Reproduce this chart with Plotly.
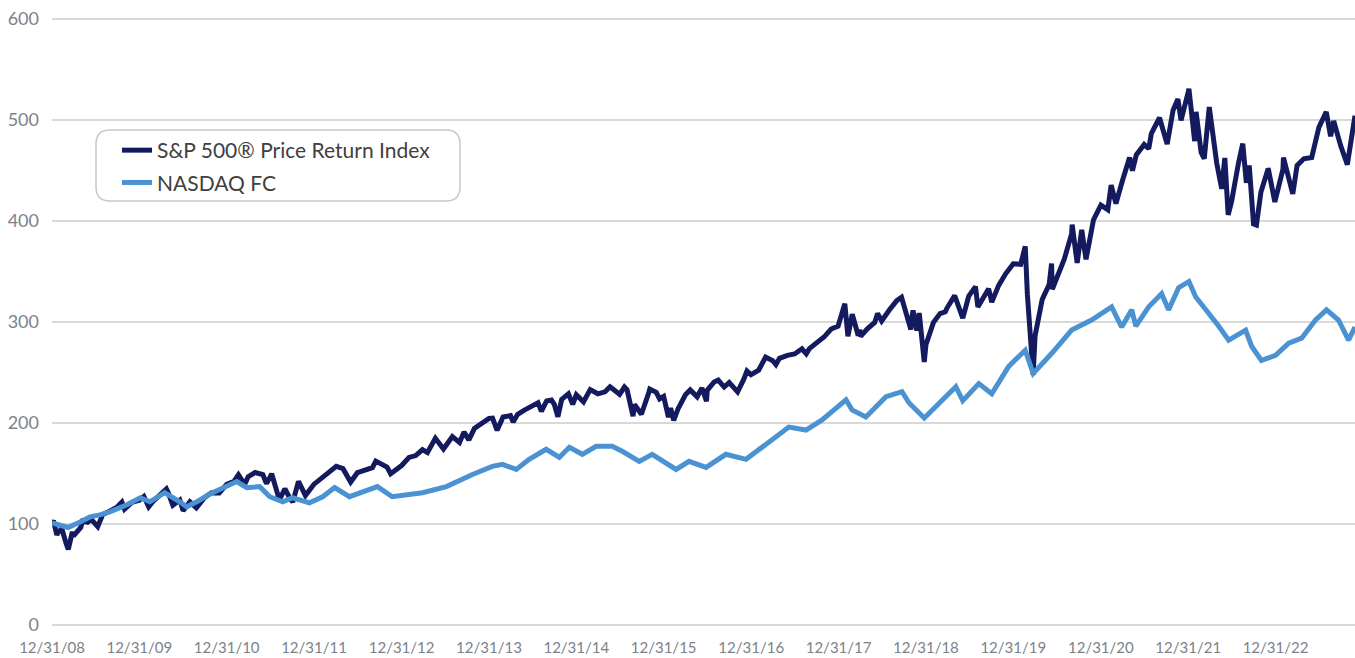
import plotly.graph_objects as go

# ---------------- data ----------------
sp_dates = [
    "2008-12-31", "2009-01-06", "2009-01-20", "2009-01-28", "2009-01-30", "2009-02-09", "2009-02-27",
    "2009-03-09", "2009-03-26", "2009-03-31", "2009-04-30", "2009-05-08", "2009-05-29", "2009-06-12",
    "2009-07-10", "2009-07-31", "2009-08-31", "2009-09-30", "2009-10-19", "2009-10-30", "2009-11-30",
    "2009-12-31", "2010-01-19", "2010-02-08", "2010-02-26", "2010-03-31", "2010-04-23", "2010-04-30",
    "2010-05-20", "2010-05-31", "2010-06-18", "2010-07-02", "2010-07-30", "2010-08-26", "2010-09-30",
    "2010-10-29", "2010-11-30", "2010-12-31", "2011-01-31", "2011-02-18", "2011-03-16", "2011-03-31",
    "2011-04-29", "2011-05-31", "2011-06-15", "2011-06-30", "2011-07-07", "2011-08-08", "2011-08-31",
    "2011-09-22", "2011-10-03", "2011-10-27", "2011-11-25", "2011-12-30", "2012-01-31", "2012-02-29",
    "2012-04-02", "2012-04-30", "2012-06-01", "2012-06-29", "2012-07-31", "2012-08-31", "2012-09-14",
    "2012-10-31", "2012-11-15", "2012-12-31", "2013-01-31", "2013-02-28", "2013-03-28", "2013-04-18",
    "2013-05-21", "2013-06-24", "2013-07-31", "2013-08-30", "2013-09-18", "2013-10-08", "2013-10-31",
    "2013-11-29", "2013-12-31", "2014-01-15", "2014-02-03", "2014-02-28", "2014-03-31", "2014-04-11",
    "2014-04-30", "2014-05-30", "2014-06-30", "2014-07-24", "2014-08-07", "2014-08-29", "2014-09-18",
    "2014-09-30", "2014-10-15", "2014-10-31", "2014-11-28", "2014-12-16", "2014-12-31", "2015-01-30",
    "2015-02-27", "2015-03-31", "2015-04-30", "2015-05-21", "2015-06-30", "2015-07-20", "2015-07-31",
    "2015-08-25", "2015-08-31", "2015-09-29", "2015-10-30", "2015-11-03", "2015-11-30", "2015-12-14",
    "2015-12-31", "2016-01-20", "2016-01-29", "2016-02-11", "2016-02-29", "2016-03-31", "2016-04-20",
    "2016-05-19", "2016-06-08", "2016-06-27", "2016-06-30", "2016-07-29", "2016-08-15", "2016-09-09",
    "2016-09-30", "2016-11-04", "2016-11-30", "2016-12-13", "2016-12-30", "2017-01-31", "2017-03-01",
    "2017-03-31", "2017-04-13", "2017-04-28", "2017-05-31", "2017-06-30", "2017-07-31", "2017-08-18",
    "2017-08-31", "2017-09-29", "2017-10-31", "2017-11-30", "2017-12-29", "2018-01-26", "2018-02-08",
    "2018-02-26", "2018-03-23", "2018-03-29", "2018-04-02", "2018-04-30", "2018-05-31", "2018-06-12",
    "2018-06-29", "2018-07-31", "2018-08-31", "2018-09-20", "2018-10-29", "2018-10-31", "2018-11-07",
    "2018-11-23", "2018-12-03", "2018-12-24", "2018-12-31", "2019-01-31", "2019-02-28", "2019-03-22",
    "2019-03-29", "2019-04-30", "2019-05-31", "2019-06-03", "2019-06-28", "2019-07-26", "2019-08-05",
    "2019-08-30", "2019-09-19", "2019-10-02", "2019-10-31", "2019-11-29", "2019-12-31", "2020-01-31",
    "2020-02-19", "2020-02-28", "2020-03-23", "2020-03-31", "2020-04-30", "2020-05-29", "2020-06-08",
    "2020-06-11", "2020-06-30", "2020-07-31", "2020-08-31", "2020-09-02", "2020-09-23", "2020-10-12",
    "2020-10-30", "2020-11-30", "2020-12-31", "2021-01-29", "2021-02-12", "2021-03-04", "2021-03-31",
    "2021-04-30", "2021-05-12", "2021-05-28", "2021-06-30", "2021-07-19", "2021-07-30", "2021-08-31",
    "2021-09-02", "2021-10-04", "2021-10-29", "2021-11-18", "2021-12-01", "2021-12-31", "2022-01-03",
    "2022-01-27", "2022-02-02", "2022-02-23", "2022-03-08", "2022-03-29", "2022-04-29", "2022-05-20",
    "2022-06-02", "2022-06-16", "2022-06-30", "2022-07-29", "2022-08-16", "2022-08-31", "2022-09-12",
    "2022-09-30", "2022-10-12", "2022-10-31", "2022-11-30", "2022-12-01", "2022-12-28", "2023-01-31",
    "2023-02-02", "2023-02-28", "2023-03-13", "2023-03-31", "2023-04-28", "2023-05-31", "2023-06-30",
    "2023-07-31", "2023-08-18", "2023-08-31", "2023-09-29", "2023-10-27", "2023-11-28",
]
sp_values = [
    100.0, 103.5, 89.1, 93.6, 91.4, 96.3, 81.4,
    74.9, 92.2, 88.3, 96.6, 102.9, 101.8, 104.8,
    97.3, 109.3, 113.0, 117.0, 121.6, 114.7, 121.3,
    123.5, 127.3, 117.0, 122.3, 129.5, 134.8, 131.4,
    118.6, 120.6, 123.7, 113.2, 122.0, 115.9, 126.3,
    131.0, 130.7, 139.2, 142.4, 148.7, 139.2, 146.8,
    151.0, 148.9, 140.1, 146.2, 149.8, 123.9, 134.9,
    125.1, 121.7, 142.2, 128.3, 139.2, 145.3, 151.2,
    157.1, 154.8, 141.5, 150.8, 152.7, 155.7, 162.3,
    156.3, 149.8, 157.9, 165.9, 167.7, 173.7, 170.7,
    184.8, 174.2, 186.6, 180.8, 191.0, 183.3, 194.5,
    199.9, 204.6, 204.8, 192.8, 205.9, 207.3, 201.0,
    208.6, 213.0, 217.0, 220.1, 211.4, 221.8, 222.7,
    218.4, 206.2, 223.4, 228.9, 218.4, 227.9, 220.9,
    233.0, 228.9, 230.9, 235.9, 228.4, 235.6, 232.9,
    206.8, 218.3, 208.6, 230.2, 233.6, 230.3, 223.8,
    226.3, 205.8, 214.8, 202.5, 213.9, 228.0, 232.8,
    225.9, 234.6, 221.5, 232.4, 240.6, 242.5, 235.6,
    240.1, 230.8, 243.4, 251.5, 247.9, 252.3, 265.3,
    261.6, 257.8, 264.0, 267.0, 268.3, 273.5, 268.5,
    273.6, 278.9, 285.1, 293.1, 296.0, 318.1, 285.8,
    307.7, 286.6, 292.4, 285.8, 293.2, 299.5, 308.5,
    301.0, 311.8, 321.2, 324.5, 292.4, 300.2, 311.5,
    291.5, 308.9, 260.3, 277.5, 299.4, 308.3, 310.1,
    313.8, 326.1, 304.7, 303.8, 325.7, 335.0, 314.9,
    324.0, 332.9, 319.7, 336.3, 347.7, 357.7, 357.1,
    374.9, 327.1, 247.7, 286.1, 322.4, 337.0, 357.8,
    332.4, 343.2, 362.1, 387.5, 396.4, 358.4, 391.3,
    362.0, 401.0, 415.8, 411.2, 435.6, 417.2, 439.8,
    462.9, 449.8, 465.4, 475.8, 471.5, 486.6, 500.7,
    502.3, 476.1, 509.9, 520.8, 499.6, 527.7, 531.0,
    479.0, 508.0, 467.8, 461.7, 512.8, 457.5, 431.9,
    462.4, 406.0, 419.1, 457.3, 476.6, 437.9, 455.1,
    397.0, 396.0, 428.7, 451.7, 451.3, 418.8, 451.3,
    462.7, 439.5, 426.9, 455.0, 461.6, 462.8, 492.7,
    508.0, 483.8, 499.0, 474.7, 455.8, 504.3,
]

fc_dates = [
    "2008-12-31", "2009-02-03", "2009-03-08", "2009-04-27", "2009-06-08", "2009-07-19", "2009-08-30",
    "2009-11-09", "2010-01-04", "2010-02-13", "2010-04-16", "2010-06-18", "2010-07-17", "2010-08-28",
    "2010-11-02", "2011-02-11", "2011-03-25", "2011-05-18", "2011-06-29", "2011-08-22", "2011-10-02",
    "2011-12-12", "2012-02-05", "2012-03-26", "2012-05-27", "2012-09-21", "2012-11-22", "2013-03-28",
    "2013-07-06", "2013-10-23", "2014-01-14", "2014-02-25", "2014-04-24", "2014-06-17", "2014-08-27",
    "2014-10-21", "2014-12-02", "2015-01-25", "2015-03-24", "2015-05-30", "2015-07-11", "2015-09-20",
    "2015-11-13", "2016-02-21", "2016-04-15", "2016-06-25", "2016-09-16", "2016-12-09", "2017-02-02",
    "2017-03-28", "2017-06-06", "2017-08-17", "2017-10-23", "2018-01-31", "2018-02-25", "2018-04-24",
    "2018-07-17", "2018-09-22", "2018-10-21", "2018-12-24", "2019-05-05", "2019-06-03", "2019-08-09",
    "2019-10-02", "2019-12-12", "2020-02-19", "2020-03-23", "2020-06-09", "2020-08-31", "2020-11-22",
    "2021-02-14", "2021-03-28", "2021-05-09", "2021-05-26", "2021-07-19", "2021-09-11", "2021-10-10",
    "2021-11-21", "2022-01-03", "2022-01-31", "2022-03-26", "2022-05-07", "2022-06-18", "2022-08-28",
    "2022-09-22", "2022-11-02", "2022-12-31", "2023-02-24", "2023-04-19", "2023-06-16", "2023-08-01",
    "2023-09-20", "2023-11-01", "2023-11-28",
]
fc_values = [
    101, 99, 96.5, 102, 107, 109, 112,
    119, 126, 122, 131, 122, 117, 122,
    131, 142, 136, 137, 127, 122, 126,
    121, 127, 136, 127, 137, 127, 131,
    137, 149, 157, 159, 154, 164, 174,
    166, 176, 169, 177, 177, 172, 162,
    169, 154, 162, 156, 169, 164, 174,
    183, 196, 193, 203, 223, 213, 206,
    226, 231, 220, 205, 236, 222, 239,
    229, 256, 272, 249, 269, 292, 302,
    315, 295, 312, 296, 315, 328, 312,
    334, 340, 325, 309, 296, 282, 292,
    276, 262, 267, 279, 284, 302, 312,
    302, 282, 295,
]

series_names = ["S&P 500® Price Return Index", "NASDAQ FC"]
series_colors = ["#141a5e", "#4a92d2"]

tick_dates = ["2008-12-31", "2009-12-31", "2010-12-31", "2011-12-31", "2012-12-31",
              "2013-12-31", "2014-12-31", "2015-12-31", "2016-12-31", "2017-12-31",
              "2018-12-31", "2019-12-31", "2020-12-31", "2021-12-31", "2022-12-31"]
tick_labels = ["12/31/08", "12/31/09", "12/31/10", "12/31/11", "12/31/12",
               "12/31/13", "12/31/14", "12/31/15", "12/31/16", "12/31/17",
               "12/31/18", "12/31/19", "12/31/20", "12/31/21", "12/31/22"]
y_ticks = [0, 100, 200, 300, 400, 500, 600]

# ---------------- figure ----------------
W, H = 1355, 658
ML, MR, MT, MB = 52, 0, 17, 31

fig = go.Figure()
fig.add_trace(go.Scatter(x=sp_dates, y=sp_values, mode="lines", name=series_names[0],
                         legendgroup="a",
                         line=dict(color=series_colors[0], width=5)))
fig.add_trace(go.Scatter(x=fc_dates, y=fc_values, mode="lines", name=series_names[1],
                         legendgroup="b",
                         line=dict(color=series_colors[1], width=5)))

# rounded legend frame (paper coordinates); positions given in window pixels
pw, ph = W - ML - MR, H - MT - MB
def px(xw):
    return (xw - ML) / pw
def py(yw):
    return (H - MB - yw) / ph
x0, x1, y0, y1, r = 96, 460, 130, 201, 14
rx, ry = r / pw, r / ph
X0, X1, Y0, Y1 = px(x0), px(x1), py(y1), py(y0)
path = (f"M {X0+rx} {Y1} L {X1-rx} {Y1} Q {X1} {Y1} {X1} {Y1-ry} "
        f"L {X1} {Y0+ry} Q {X1} {Y0} {X1-rx} {Y0} "
        f"L {X0+rx} {Y0} Q {X0} {Y0} {X0} {Y0+ry} "
        f"L {X0} {Y1-ry} Q {X0} {Y1} {X0+rx} {Y1} Z")
fig.add_shape(type="path", path=path, xref="paper", yref="paper",
              line=dict(color="#c8c8c8", width=1.5), fillcolor="rgba(255,255,255,0.9)",
              layer="below")

fig.update_layout(
    width=W, height=H,
    margin=dict(l=ML, r=MR, t=MT, b=MB, autoexpand=False),
    paper_bgcolor="white", plot_bgcolor="white",
    font=dict(family="Lato, 'Open Sans', sans-serif", color="#3c3c3c"),
    showlegend=True,
    legend=dict(x=px(117), y=py(130), xanchor="left", yanchor="top",
                bgcolor="rgba(0,0,0,0)", borderwidth=0,
                font=dict(family="Lato, sans-serif", size=21, color="#404040"),
                traceorder="grouped", tracegroupgap=2, itemwidth=30),
    xaxis=dict(type="date", range=["2008-12-31", "2023-11-28"],
               tickmode="array", tickvals=tick_dates, ticktext=tick_labels,
               showgrid=False, zeroline=False, showline=False, ticks="",
               ticklabelstandoff=10, ticklabeloverflow="allow",
               tickfont=dict(family="Lato, sans-serif", size=15, color="#7d8288")),
    yaxis=dict(range=[-2, 602], tickmode="array", tickvals=y_ticks,
               showgrid=True, gridcolor="#d9d9d9", gridwidth=2,
               zeroline=False, showline=False, ticks="",
               ticklabelstandoff=12, ticklabeloverflow="allow",
               tickfont=dict(family="Lato, sans-serif", size=18, color="#7d8288")),
)

# remove the default 8px page margin so the figure fills the window exactly
fig.write_html("out.html",
               config={"displayModeBar": False},
               post_script="document.body.style.margin='0px';document.body.style.overflow='hidden';")
